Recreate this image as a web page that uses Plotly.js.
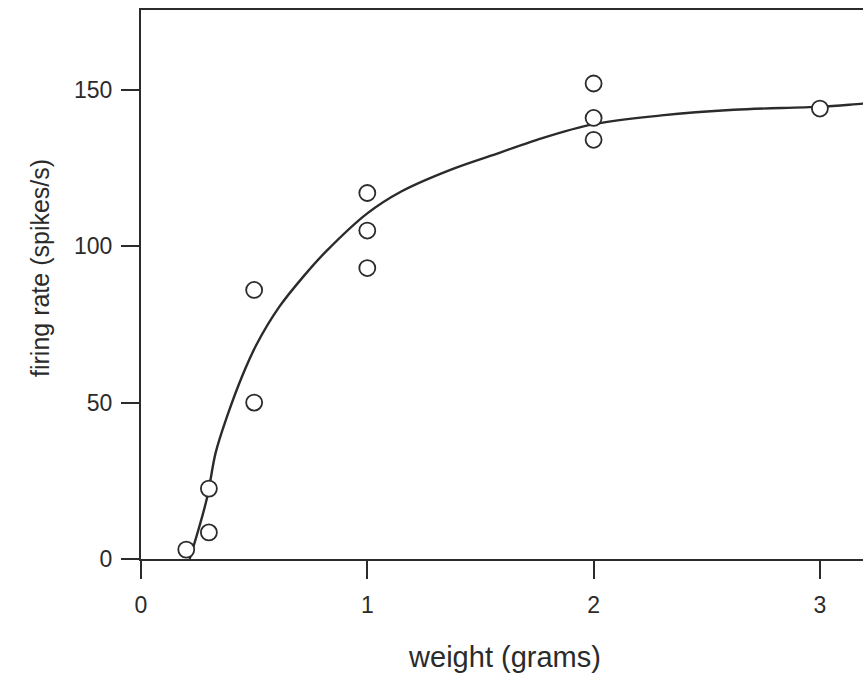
<!DOCTYPE html>
<html>
<head>
<meta charset="utf-8">
<script src="https://cdn.plot.ly/plotly-3.0.1.min.js"></script>
<style>
  html, body { margin: 0; padding: 0; background: #fff; overflow: hidden; }
  #chart { width: 900px; height: 675px; }
</style>
</head>
<body>
<div id="chart"></div>
<script>
// Measured responses: stimulus weight vs firing rate
const weightGrams = [0.2, 0.3, 0.3, 0.5, 0.5, 1, 1, 1, 2, 2, 2, 3];
const firingRate  = [3, 22.5, 8.5, 86, 50, 117, 105, 93, 152, 141, 134, 144];

// Fitted response curve
const curveWeight = [0.215, 0.29, 0.33, 0.38, 0.45, 0.51, 0.61, 0.72, 0.82, 1.0, 1.15, 1.37, 1.59, 1.75, 2.0, 2.3, 2.62, 3.0, 3.2, 3.3];
const curveRate   = [0, 19, 34, 45.5, 59, 68.5, 80.5, 90.5, 98.5, 110.5, 117.5, 124.5, 130, 134, 139, 141.8, 143.6, 144.6, 145.6, 146];

const xTicks = [0, 1, 2, 3];
const yTicks = [0, 50, 100, 150];

const ink = '#2b2b2b';
const fontFamily = 'Liberation Sans, Arial, Helvetica, sans-serif';

const traces = [
  {
    x: curveWeight, y: curveRate,
    type: 'scatter', mode: 'lines',
    line: { color: ink, width: 2.4, shape: 'spline', smoothing: 1 },
    hoverinfo: 'skip', showlegend: false
  },
  {
    x: weightGrams, y: firingRate,
    type: 'scatter', mode: 'markers',
    marker: { symbol: 'circle', size: 16, color: '#ffffff', line: { color: ink, width: 1.8 } },
    showlegend: false
  }
];

const layout = {
  width: 900, height: 675,
  margin: { l: 141, r: 31, t: 10, b: 116 },
  paper_bgcolor: '#ffffff', plot_bgcolor: '#ffffff',
  font: { family: fontFamily, color: ink },
  xaxis: {
    range: [0, 3.217],
    tickvals: xTicks, ticktext: xTicks.map(String),
    ticks: 'outside', ticklen: 18, tickwidth: 2, tickcolor: ink,
    showline: true, linecolor: ink, linewidth: 2, mirror: true,
    showgrid: false, zeroline: false,
    ticklabelstandoff: 6,
    tickfont: { size: 23, color: ink, family: fontFamily },
    title: { text: 'weight (grams)', font: { size: 29, color: ink, family: fontFamily }, standoff: 30 }
  },
  yaxis: {
    range: [0, 175.5],
    tickvals: yTicks, ticktext: yTicks.map(String),
    ticks: 'outside', ticklen: 18, tickwidth: 2, tickcolor: ink,
    showline: true, linecolor: ink, linewidth: 2,
    showgrid: false, zeroline: false,
    ticklabelstandoff: 4,
    tickfont: { size: 23, color: ink, family: fontFamily }
  },
  annotations: [{
    text: 'firing rate (spikes/s)',
    xref: 'paper', yref: 'paper',
    x: (40 - 141) / 728, y: (559 - 268) / 549,
    xanchor: 'center', yanchor: 'middle',
    textangle: -90, showarrow: false,
    font: { size: 25, color: ink, family: fontFamily }
  }]
};

Plotly.newPlot('chart', traces, layout, { displayModeBar: false, staticPlot: true });
</script>
</body>
</html>
